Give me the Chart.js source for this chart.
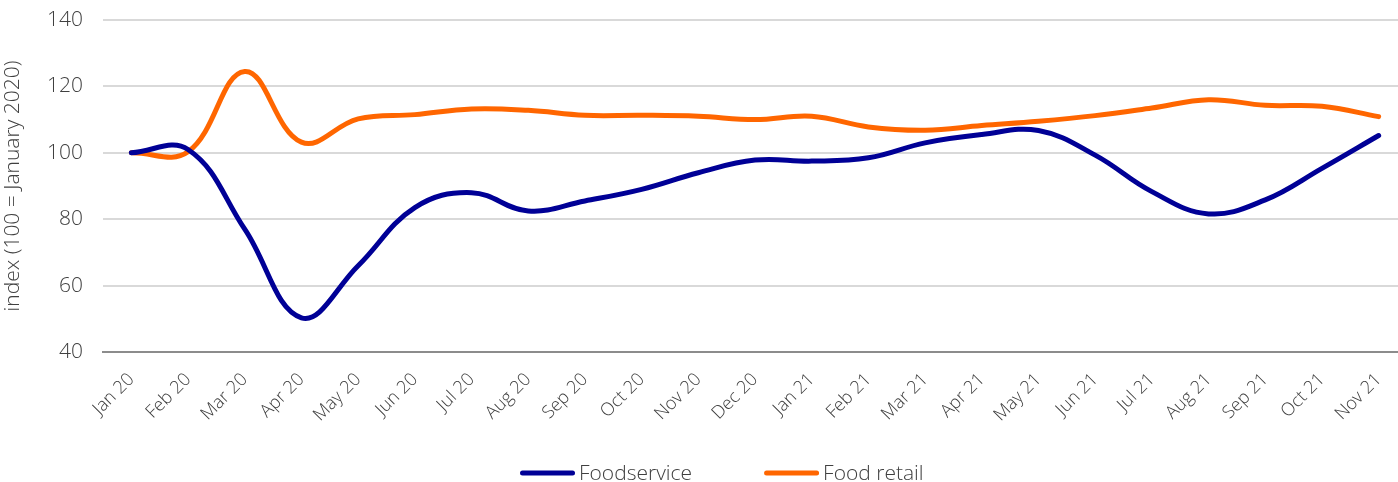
<!DOCTYPE html>
<html>
<head>
<meta charset="utf-8">
<script src="https://cdn.jsdelivr.net/npm/chart.js@4.4.1/dist/chart.umd.min.js"></script>
<style>
  html, body { margin: 0; padding: 0; background: #fff; overflow: hidden; }
  #frame { width: 1398px; height: 482px; overflow: hidden; position: relative; }
  #wrap { width: 1407px; height: 482px; position: absolute; left: 0; top: 0; }
</style>
</head>
<body>
<div id="frame"><div id="wrap"><canvas id="chart"></canvas></div></div>
<script>
// Monthly index values (100 = January 2020)
const months = ['Jan 20', 'Feb 20', 'Mar 20', 'Apr 20', 'May 20', 'Jun 20', 'Jul 20', 'Aug 20',
  'Sep 20', 'Oct 20', 'Nov 20', 'Dec 20', 'Jan 21', 'Feb 21', 'Mar 21', 'Apr 21', 'May 21',
  'Jun 21', 'Jul 21', 'Aug 21', 'Sep 21', 'Oct 21', 'Nov 21'];
const foodservice = [100, 101, 77, 50.3, 66, 83.5, 88, 82.5, 85.5, 89, 94, 97.8, 97.5, 98.5,
  103, 105.5, 106.7, 99.3, 88.3, 81.6, 85.8, 95.3, 105.2];
const foodRetail = [100, 100.3, 124.5, 103.2, 110.2, 111.5, 113.2, 112.8, 111.3, 111.3, 111,
  110, 111, 107.8, 106.8, 108.2, 109.5, 111.2, 113.5, 116, 114.3, 114, 110.9];
const yTicks = [40, 60, 80, 100, 120, 140];

const FONT = '"Open Sans", "Noto Sans", sans-serif';
const TEXT = '#404040';

// Legend drawn under the plot: a short line sample followed by the series name
const bottomLegend = {
  id: 'bottomLegend',
  afterDraw(chart) {
    const ctx = chart.ctx;
    const sampleW = 55, gap = 4, itemGap = 72, y = 473, startX = 520;
    ctx.save();
    ctx.font = '300 21px ' + FONT;
    ctx.textBaseline = 'middle';
    let x = startX;
    chart.data.datasets.forEach(ds => {
      ctx.strokeStyle = ds.borderColor;
      ctx.lineWidth = 5;
      ctx.lineCap = 'round';
      ctx.beginPath();
      ctx.moveTo(x + 2.5, y);
      ctx.lineTo(x + sampleW - 2.5, y);
      ctx.stroke();
      ctx.fillStyle = TEXT;
      ctx.fillText(ds.label, x + sampleW + gap, y + 1);
      x += sampleW + gap + ctx.measureText(ds.label).width + itemGap;
    });
    ctx.restore();
  }
};

new Chart(document.getElementById('chart'), {
  type: 'line',
  data: {
    labels: months,
    datasets: [
      { label: 'Foodservice', data: foodservice, borderColor: '#000096', backgroundColor: '#000096' },
      { label: 'Food retail', data: foodRetail, borderColor: '#FF6600', backgroundColor: '#FF6600' }
    ]
  },
  options: {
    responsive: true,
    maintainAspectRatio: false,
    animation: false,
    layout: { padding: { top: 20, right: 0, left: 0, bottom: 0 } },
    elements: {
      line: { borderWidth: 5, tension: 0.4, borderCapStyle: 'round', borderJoinStyle: 'round' },
      point: { radius: 0, hoverRadius: 0 }
    },
    plugins: { legend: { display: false }, tooltip: { enabled: false } },
    scales: {
      x: {
        offset: true,
        grid: { display: false, drawTicks: false },
        border: { display: true, color: '#8c8c8c', width: 2 },
        ticks: {
          color: TEXT, font: { family: FONT, size: 18, weight: 300 },
          minRotation: 45, maxRotation: 45, padding: 17, autoSkip: false
        },
        afterFit(scale) {
          scale.height = 130;
          scale.paddingRight = 0;
        }
      },
      y: {
        min: 40, max: 140,
        afterBuildTicks(scale) { scale.ticks = yTicks.map(v => ({ value: v })); },
        grid: { color: '#d9d9d9', lineWidth: 2, drawTicks: false },
        border: { display: false },
        ticks: { color: TEXT, font: { family: FONT, size: 21, weight: 300 }, padding: 20 },
        title: {
          display: true, text: 'index (100 = January 2020)',
          color: TEXT, font: { family: FONT, size: 21, weight: 300 }, padding: { top: 0, bottom: 0 }
        },
        afterFit(scale) {
          scale.width = 103;
          scale.paddingTop = 0;
          scale.paddingBottom = 0;
        }
      }
    }
  },
  plugins: [bottomLegend]
});
</script>
</body>
</html>
